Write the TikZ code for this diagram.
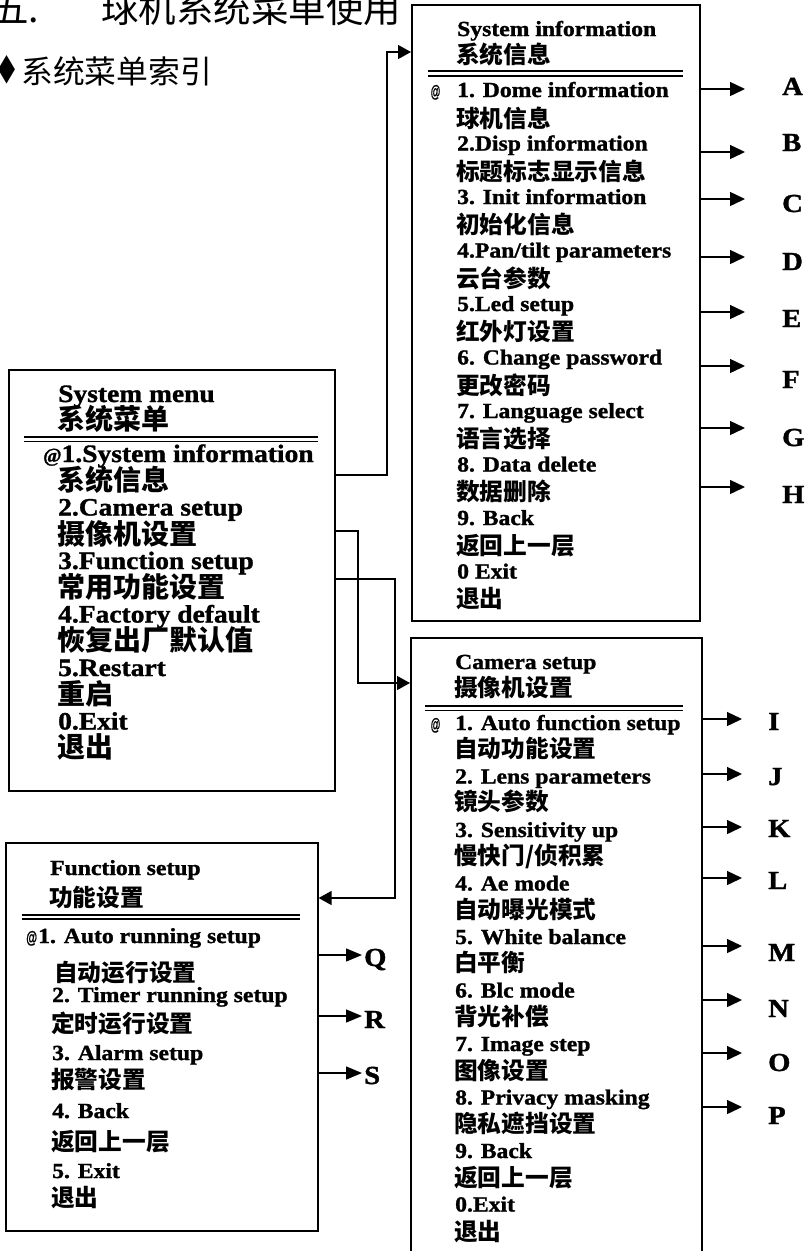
\documentclass[tikz,border=0pt]{standalone}
\usepackage{fontspec}
\usepackage{graphicx}
\usetikzlibrary{arrows.meta,calc}
\setmainfont{Liberation Serif}
\newfontfamily\enfont{Liberation Serif Bold}[FakeStretch=1.1, FakeBold=1.3]
\newfontfamily\cjkfont{Noto Sans CJK SC}
\newfontfamily\atfont{Liberation Sans Bold}[FakeBold=1]
\newfontfamily\symfont{DejaVu Sans}
\tikzset{
  box/.style={draw, line width=1.6pt, rectangle, inner sep=0pt, anchor=north west},
  entext/.style={anchor=base west, inner sep=0pt, font=\enfont\fontsize{21.5}{21.5}\selectfont},
  cntext/.style={anchor=base west, inner sep=0pt, font=\cjkfont\bfseries\fontsize{23.7}{23.7}\selectfont},
  enbig/.style={entext, font=\enfont\fontsize{25}{25}\selectfont},
  cnbig/.style={cntext, font=\cjkfont\bfseries\fontsize{28}{28}\selectfont},
  letter/.style={anchor=base west, inner sep=0pt, font=\enfont\fontsize{26}{26}\selectfont},
  atsign/.style={anchor=base west, inner sep=0pt, font=\atfont\fontsize{17}{17}\selectfont},
  dbl/.style={line width=1.5pt},
  conn/.style={line width=1.4pt, -{Triangle[length=13pt,width=14pt]}},
  arr/.style={line width=1.4pt, -{Triangle[length=15pt,width=14pt]}},
}
\begin{document}
\begin{tikzpicture}[x=1pt,y=-1pt]
\fill[white] (0,0) rectangle (806,1251);
\useasboundingbox (0,0) rectangle (806,1251);

% headings
\node[anchor=base west, inner sep=0pt, font=\cjkfont\fontsize{37.5}{37.5}\selectfont] (h1) at (-9,22.5) {五.};
\node[anchor=base west, inner sep=0pt, font=\cjkfont\fontsize{37.5}{37.5}\selectfont] (h2) at (101,22.5) {球机系统菜单使用};
\node[inner sep=0pt, font=\symfont\fontsize{30}{30}\selectfont] (h3) at (7.5,70) {\resizebox{17pt}{24pt}{◆}};
\node[anchor=base west, inner sep=0pt, font=\cjkfont\fontsize{31.8}{31.8}\selectfont] (h4) at (21,83) {系统菜单索引};

% boxes
\node[box, minimum width=288pt, minimum height=616pt] (sysinfo) at (411,4) {};
\node[box, minimum width=326pt, minimum height=421pt] (sysmenu) at (8,369) {};
\node[box, minimum width=291pt, minimum height=670pt] (camera) at (410,637) {};
\node[box, minimum width=312pt, minimum height=388pt] (function) at (5,842) {};

% double rules
\draw[dbl] (428,71) -- (683,71) (428,76) -- (683,76);
\draw[dbl] (24,437) -- (318,437) (24,441.5) -- (318,441.5);
\draw[dbl] (425,706) -- (683,706) (425,710.5) -- (683,710.5);
\draw[dbl] (22,915) -- (300,915) (22,918.8) -- (300,918.8);

% system information
\node[entext] (si-title) at (457,36) {System information};
\node[cntext] (si-ctitle) at (456,63) {系统信息};
\node[atsign] (si-at) at (430.5,97) {\scalebox{0.58}[1]{@}};
\foreach \txt [count=\i] in {1. Dome information, 2.Disp information, 3. Init information, 4.Pan/tilt parameters, 5.Led setup, 6. Change password, 7. Language select, 8. Data delete, 9. Back, 0 Exit}{
  \pgfmathsetmacro\yy{97+53.5*(\i-1)}
  \node[entext] (si-e\i) at (457,\yy) {\txt};
}
\foreach \txt [count=\i] in {球机信息, 标题标志显示信息, 初始化信息, 云台参数, 红外灯设置, 更改密码, 语言选择, 数据删除, 返回上一层, 退出}{
  \pgfmathsetmacro\yy{127+53.4*(\i-1)}
  \node[cntext] (si-c\i) at (456,\yy) {\txt};
}

% system menu
\node[enbig] (sm-title) at (58,402) {System menu};
\node[cnbig] (sm-ctitle) at (57,429.6) {系统菜单};
\node[enbig] (sm-e1) at (43,462) {\scalebox{0.72}[0.8]{@}1.System information};
\foreach \txt [count=\i from 2] in {2.Camera setup, 3.Function setup, 4.Factory default, 5.Restart, 0.Exit}{
  \pgfmathsetmacro\yy{462+53.5*(\i-1)}
  \node[enbig] (sm-e\i) at (58,\yy) {\txt};
}
\foreach \txt [count=\i] in {系统信息, 摄像机设置, 常用功能设置, 恢复出厂默认值, 重启, 退出}{
  \pgfmathsetmacro\yy{490.6+53.4*(\i-1)}
  \node[cnbig] (sm-c\i) at (57,\yy) {\txt};
}

% camera setup
\node[entext] (cs-title) at (455,669) {Camera setup};
\node[cntext] (cs-ctitle) at (454,696.5) {摄像机设置};
\node[atsign] (cs-at) at (430.5,730) {\scalebox{0.58}[1]{@}};
\foreach \txt [count=\i] in {1. Auto function setup, 2. Lens parameters, 3. Sensitivity up, 4. Ae mode, 5. White balance, 6. Blc mode, 7. Image step, 8. Privacy masking, 9. Back, 0.Exit}{
  \pgfmathsetmacro\yy{730+53.5*(\i-1)}
  \node[entext] (cs-e\i) at (455,\yy) {\txt};
}
\foreach \txt [count=\i] in {自动功能设置, 镜头参数, 慢快门/侦积累, 自动曝光模式, 白平衡, 背光补偿, 图像设置, 隐私遮挡设置, 返回上一层, 退出}{
  \pgfmathsetmacro\yy{757+53.7*(\i-1)}
  \node[cntext] (cs-c\i) at (454,\yy) {\txt};
}

% function setup
\node[entext] (fs-title) at (50,875) {Function setup};
\node[cntext] (fs-ctitle) at (49,906) {功能设置};
\node[atsign, font=\atfont\fontsize{17}{17}\selectfont] (fs-at) at (26,943) {\scalebox{0.66}[1]{@}};
\node[entext] (fs-e1) at (38,943) {1. Auto running setup};
\node[cntext] (fs-c1) at (54,981.5) {自动运行设置};
\node[entext] (fs-e2) at (52,1002) {2. Timer running setup};
\node[cntext] (fs-c2) at (51,1032) {定时运行设置};
\node[entext] (fs-e3) at (52,1060) {3. Alarm setup};
\node[cntext] (fs-c3) at (51,1088) {报警设置};
\node[entext] (fs-e4) at (52,1118) {4. Back};
\node[cntext] (fs-c4) at (51,1150) {返回上一层};
\node[entext] (fs-e5) at (52,1178) {5. Exit};
\node[cntext] (fs-c5) at (51,1206.5) {退出};

% letters and arrows
\foreach \ltr/\b/\a in {A/95/89, B/151/152, C/212/199, D/270/257, E/327/312, F/388/366, G/446/428, H/503/487}{
  \node[letter] (\ltr) at (782,\b) {\ltr};
  \draw[arr, shorten >=37pt] (sysinfo.east |- 0,\a) -- (\ltr.west |- 0,\a);
}
\foreach \ltr/\b/\a in {I/730/719, J/785/774, K/837/827, L/889/878, M/961/946, N/1017/1000, O/1071/1053, P/1124/1107}{
  \node[letter] (\ltr) at (768,\b) {\ltr};
  \draw[arr, shorten >=26pt] (camera.east |- 0,\a) -- (\ltr.west |- 0,\a);
}
\foreach \ltr/\b/\a in {Q/966/955, R/1028/1016, S/1084/1073}{
  \node[letter] (\ltr) at (364,\b) {\ltr};
  \draw[arr, -{Triangle[length=16pt,width=13pt]}, shorten >=2pt] (function.east |- 0,\a) -- (\ltr.west |- 0,\a);
}

% connectors from the system menu
\coordinate (c1) at (387,52);
\coordinate (c2) at (358,683);
\coordinate (c3) at (395,898);
\draw[conn] (sysmenu.east |- 0,475) -| (c1) -- (sysinfo.west |- c1);
\draw[conn] (sysmenu.east |- 0,531) -| (c2) -- (camera.west |- c2);
\draw[conn] (sysmenu.east |- 0,579) -| (c3) -- (function.east |- c3);
\end{tikzpicture}
\end{document}
